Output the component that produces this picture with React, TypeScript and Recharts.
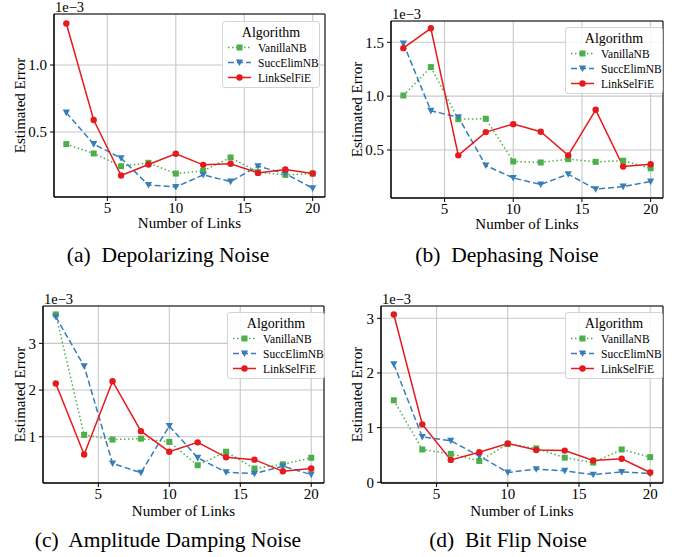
import { LineChart, Line, XAxis, YAxis, CartesianGrid, Legend, ReferenceArea } from 'recharts';

const links = [2, 4, 6, 8, 10, 12, 14, 16, 18, 20];
const xTicks = [5, 10, 15, 20];

// all values in units of 1e-3
const depolVanilla = [0.41, 0.34, 0.245, 0.27, 0.19, 0.21, 0.31, 0.2, 0.18, 0.19];
const depolSucc = [0.645, 0.41, 0.305, 0.105, 0.09, 0.18, 0.13, 0.245, 0.19, 0.08];
const depolLink = [1.31, 0.59, 0.175, 0.258, 0.338, 0.255, 0.263, 0.195, 0.22, 0.19];

const dephVanilla = [1.006, 1.27, 0.786, 0.79, 0.393, 0.384, 0.415, 0.39, 0.4, 0.33];
const dephSucc = [1.49, 0.864, 0.805, 0.356, 0.24, 0.18, 0.275, 0.136, 0.16, 0.207];
const dephLink = [1.446, 1.63, 0.45, 0.666, 0.74, 0.67, 0.45, 0.873, 0.347, 0.368];

const ampVanilla = [3.62, 1.04, 0.94, 0.96, 0.89, 0.39, 0.68, 0.32, 0.41, 0.55];
const ampSucc = [3.57, 2.51, 0.43, 0.23, 1.23, 0.55, 0.24, 0.21, 0.37, 0.19];
const ampLink = [2.14, 0.62, 2.19, 1.12, 0.68, 0.88, 0.56, 0.51, 0.26, 0.32];

const flipVanilla = [1.5, 0.6, 0.52, 0.39, 0.7, 0.62, 0.45, 0.36, 0.6, 0.46];
const flipSucc = [2.16, 0.83, 0.76, 0.48, 0.18, 0.24, 0.21, 0.14, 0.19, 0.16];
const flipLink = [3.07, 1.06, 0.41, 0.55, 0.71, 0.59, 0.58, 0.4, 0.43, 0.18];

const serif = 'Liberation Serif, Times New Roman, serif';
const GREEN = '#4daf4a';
const BLUE = '#377eb8';
const RED = '#e41a1c';

const series = [
  { key: 'vanilla', name: 'VanillaNB', color: GREEN, dash: '1.5 2.5', marker: 'square' },
  { key: 'succ', name: 'SuccElimNB', color: BLUE, dash: '6 3', marker: 'tri' },
  { key: 'link', name: 'LinkSelFiE', color: RED, dash: undefined, marker: 'circle' },
];

function Marker({ kind, cx, cy, color }: any) {
  if (kind === 'square') return <rect x={cx - 3} y={cy - 3} width={6} height={6} fill={color} />;
  if (kind === 'tri')
    return <polygon points={`${cx - 3.6},${cy - 3} ${cx + 3.6},${cy - 3} ${cx},${cy + 3.6}`} fill={color} />;
  return <circle cx={cx} cy={cy} r={3.2} fill={color} />;
}

function LegendBox() {
  return (
    <div
      style={{
        width: 98,
        height: 67,
        boxSizing: 'border-box',
        border: '1px solid #d4d4d4',
        borderRadius: 3,
        background: 'rgba(255,255,255,0.85)',
        fontFamily: serif,
        color: '#000',
      }}
    >
      <div style={{ textAlign: 'center', fontSize: 14, lineHeight: '14px', marginTop: 4 }}>Algorithm</div>
      {series.map((s) => (
        <div key={s.key} style={{ display: 'flex', alignItems: 'center', height: 15, fontSize: 11.5 }}>
          <svg width={35} height={15} style={{ flex: 'none' }}>
            <line x1={5} y1={7.5} x2={28} y2={7.5} stroke={s.color} strokeWidth={1.5} strokeDasharray={s.dash} />
            <Marker kind={s.marker} cx={16.5} cy={7.5} color={s.color} />
          </svg>
          <span style={{ whiteSpace: 'nowrap' }}>{s.name}</span>
        </div>
      ))}
    </div>
  );
}

const panels = [
  {
    id: 'a', caption: '(a)', title: 'Depolarizing Noise',
    vanilla: depolVanilla, succ: depolSucc, link: depolLink,
    yTicks: [0.5, 1.0], yDomain: [0.015, 1.381], digits: 1,
    left: 0, top: 0, frame: { l: 54, t: 14, r: 325, b: 197 }, legend: { x: 222, y: 21 },
    xLabelDy: 31, capX: 168, capY: 245,
  },
  {
    id: 'b', caption: '(b)', title: 'Dephasing Noise',
    vanilla: dephVanilla, succ: dephSucc, link: dephLink,
    yTicks: [0.5, 1.0, 1.5], yDomain: [0.054, 1.698], digits: 1,
    left: 337, top: 0, frame: { l: 391, t: 21, r: 663, b: 198 }, legend: { x: 228, y: 27 },
    xLabelDy: 31, capX: 507, capY: 245,
  },
  {
    id: 'c', caption: '(c)', title: 'Amplitude Damping Noise',
    vanilla: ampVanilla, succ: ampSucc, link: ampLink,
    yTicks: [1, 2, 3], yDomain: [0.01, 3.8], digits: 0,
    left: 0, top: 285, frame: { l: 43, t: 306, r: 324, b: 483 }, legend: { x: 227, y: 27 },
    xLabelDy: 33, capX: 168, capY: 530,
  },
  {
    id: 'd', caption: '(d)', title: 'Bit Flip Noise',
    vanilla: flipVanilla, succ: flipSucc, link: flipLink,
    yTicks: [0, 1, 2, 3], yDomain: [-0.013, 3.225], digits: 0,
    left: 337, top: 285, frame: { l: 381, t: 306, r: 663, b: 483 }, legend: { x: 228, y: 27 },
    xLabelDy: 33, capX: 508, capY: 530,
  },
];

const tickStyle = { fontFamily: serif, fontSize: 15, fill: '#000' };

function Panel({ p }: any) {
  const data = links.map((n, i) => ({ n, vanilla: p.vanilla[i], succ: p.succ[i], link: p.link[i] }));
  const yW = p.frame.l - p.left;
  const width = p.frame.r + 10 - p.left;
  const height = p.frame.b + 38 - p.top;

  const yLabel = (props: any) => {
    const vb = props.viewBox || {};
    const cx = vb.x + 20;
    const cy = vb.y + vb.height / 2;
    return (
      <g style={{ fontFamily: serif }}>
        <text x={cx} y={cy} transform={`rotate(-90 ${cx} ${cy})`} textAnchor="middle" dominantBaseline="central"
          fontSize={15} fill="#000" style={{ fontFamily: serif }}>Estimated Error</text>
        <text x={vb.x + vb.width + 1} y={vb.y - 2} fontSize={14.5} fill="#000" style={{ fontFamily: serif }}>1e−3</text>
      </g>
    );
  };
  const xLabel = (props: any) => {
    const vb = props.viewBox || {};
    return (
      <text x={vb.x + vb.width / 2} y={vb.y + p.xLabelDy} textAnchor="middle" fontSize={15} fill="#000"
        style={{ fontFamily: serif }}>
        Number of Links
      </text>
    );
  };

  return (
    <>
      <div style={{ position: 'absolute', left: p.left, top: p.top, fontFamily: serif }}>
        <LineChart width={width} height={height} data={data}
          margin={{ top: p.frame.t - p.top, right: 10, left: 0, bottom: 0 }}>
          <CartesianGrid stroke="#c8c8c8" strokeWidth={1.1} />
          <XAxis dataKey="n" type="number" domain={[1.1, 20.9]} ticks={xTicks} allowDataOverflow
            height={38} tick={tickStyle} tickSize={4} tickMargin={1}
            axisLine={{ stroke: '#000', strokeWidth: 1 }} tickLine={{ stroke: '#000' }} label={xLabel} />
          <YAxis type="number" domain={p.yDomain} ticks={p.yTicks} allowDataOverflow width={yW}
            tick={tickStyle} tickSize={4} tickMargin={3}
            tickFormatter={(v: number) => v.toFixed(p.digits)}
            axisLine={{ stroke: '#000', strokeWidth: 1 }} tickLine={{ stroke: '#000' }} label={yLabel} />
          <Legend layout="vertical" align="center" verticalAlign="middle" content={() => <LegendBox />}
            wrapperStyle={{ left: p.legend.x, top: p.legend.y, width: 98, height: 67 }} />
          {series.map((s) => (
            <Line key={s.key} dataKey={s.key} name={s.name} type="linear" stroke={s.color} strokeWidth={1.5}
              strokeDasharray={s.dash} isAnimationActive={false}
              dot={(d: any) => <Marker key={`${s.key}-${d.index}`} kind={s.marker} cx={d.cx} cy={d.cy} color={s.color} />}
              activeDot={false} />
          ))}
          <ReferenceArea x1={1.1} x2={20.9} y1={p.yDomain[0]} y2={p.yDomain[1]} fill="none" fillOpacity={0}
            stroke="#000" strokeWidth={1} ifOverflow="visible" />
        </LineChart>
      </div>
      <div style={{ position: 'absolute', left: p.capX - 170, top: p.capY, width: 340, textAlign: 'center',
        fontFamily: serif, fontSize: 21.5, lineHeight: '21.5px', color: '#000', whiteSpace: 'pre' }}>
        {p.caption + '  ' + p.title}
      </div>
    </>
  );
}

export default function App() {
  return (
    <div style={{ position: 'absolute', left: 0, top: 0, width: 677, height: 557, background: '#fff', fontFamily: serif }}>
      {panels.map((p) => (
        <Panel key={p.id} p={p} />
      ))}
    </div>
  );
}
